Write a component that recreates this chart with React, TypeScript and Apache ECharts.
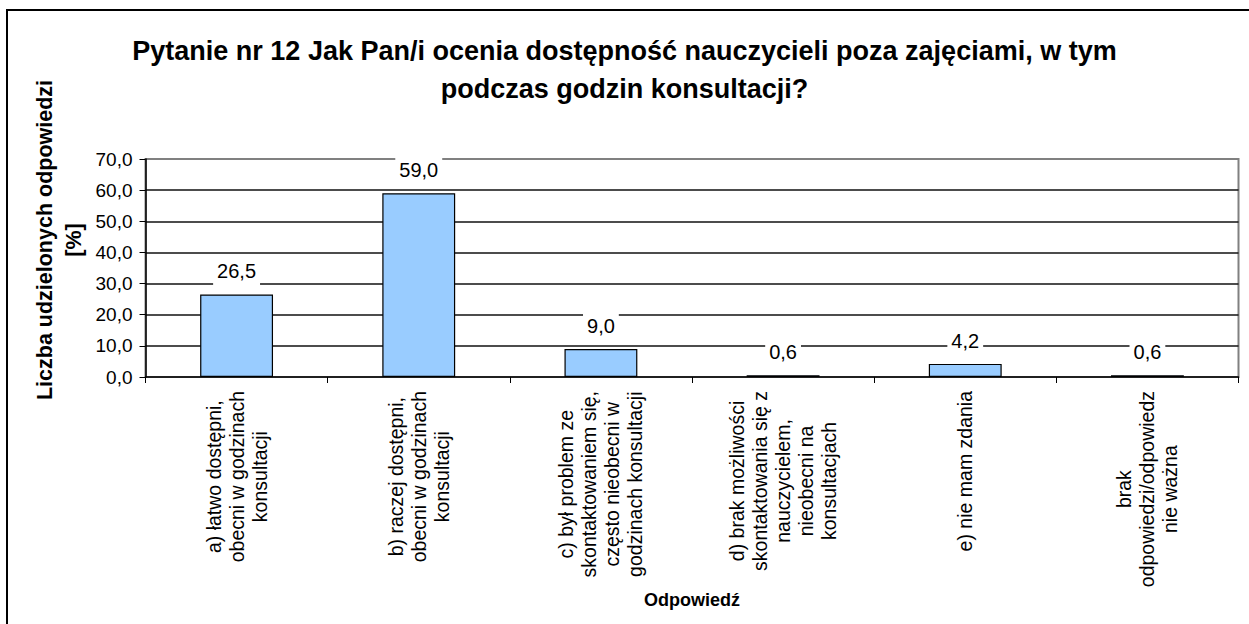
import React, { useEffect, useRef } from "react";
import * as echarts from "echarts";

const titleText = "Pytanie nr 12 Jak Pan/i ocenia dostępność nauczycieli poza zajęciami, w tym\npodczas godzin konsultacji?";
const yAxisTitle = "Liczba udzielonych odpowiedzi\n[%]";
const xAxisTitle = "Odpowiedź";

const categories: string[][] = [
  ["a) łatwo dostępni,", "obecni w godzinach", "konsultacji"],
  ["b) raczej dostępni,", "obecni w godzinach", "konsultacji"],
  ["c) był problem ze", "skontaktowaniem się,", "często nieobecni w", "godzinach konsultacji"],
  ["d) brak możliwości", "skontaktowania się z", "nauczycielem,", "nieobecni na", "konsultacjach"],
  ["e) nie mam zdania"],
  ["brak", "odpowiedzi/odpowiedz", "nie ważna"],
];
const values: number[] = [26.5, 59.0, 9.0, 0.6, 4.2, 0.6];

const yMin = 0;
const yMax = 70;
const yStep = 10;

const FONT = '"Liberation Sans", Arial, sans-serif';
const fmt = (v: number) => v.toFixed(1).replace(".", ",");

export default function App() {
  const ref = useRef<HTMLDivElement>(null);
  useEffect(() => {
    if (!ref.current) return;
    const chart = echarts.init(ref.current, null, { renderer: "svg" });
    const catKeys = categories.map((c) => c.join("\n"));
    chart.setOption({
      animation: false,
      backgroundColor: "#fff",
      title: {
        text: titleText,
        left: "center",
        top: 32,
        padding: [0, 0, 0, 22],
        textStyle: {
          fontFamily: FONT,
          fontWeight: "bold",
          fontSize: 27,
          lineHeight: 38,
          color: "#000",
        },
      },
      graphic: [
        {
          type: "rect",
          silent: true,
          z: -10,
          shape: { x: 7, y: 10, width: 1300, height: 700 },
          style: { fill: "none", stroke: "#000", lineWidth: 2 },
        },
        {
          type: "text",
          x: 59,
          y: 240,
          rotation: Math.PI / 2,
          style: {
            text: yAxisTitle,
            font: `bold 21.5px ${FONT}`,
            lineHeight: 29,
            align: "center",
            verticalAlign: "middle",
            fill: "#000",
          },
        },
      ],
      grid: {
        left: 145.5,
        right: 10.5,
        top: 159,
        bottom: 247,
        show: true,
        borderColor: "#808080",
        borderWidth: 2,
        backgroundColor: "transparent",
      },
      xAxis: {
        type: "category",
        data: catKeys,
        boundaryGap: true,
        name: xAxisTitle,
        nameLocation: "middle",
        nameGap: 212,
        nameTextStyle: {
          fontFamily: FONT,
          fontWeight: "bold",
          fontSize: 18,
          color: "#000",
        },
        axisLine: { show: true, lineStyle: { color: "#000", width: 1.5 } },
        axisTick: { show: true, alignWithLabel: false, length: 6, lineStyle: { color: "#000" } },
        axisLabel: {
          interval: 0,
          rotate: 90,
          margin: 14,
          formatter: (v: string) =>
            v
              .split("\n")
              .map((l) => `{c|${l}}`)
              .join("\n"),
          rich: {
            c: {
              align: "center",
              fontFamily: FONT,
              fontSize: 19.5,
              lineHeight: 23,
              color: "#000",
            },
          },
        },
        splitLine: { show: false },
      },
      yAxis: {
        type: "value",
        min: yMin,
        max: yMax,
        interval: yStep,
        axisLine: { show: true, lineStyle: { color: "#000", width: 1.5 } },
        axisTick: { show: true, length: 6, lineStyle: { color: "#000" } },
        axisLabel: {
          margin: 13,
          formatter: (v: number) => fmt(v),
          fontFamily: FONT,
          fontSize: 19,
          color: "#000",
        },
        splitLine: {
          show: true,
          showMinLine: false,
          showMaxLine: false,
          lineStyle: { color: "#111", width: 1.6 },
        },
      },
      series: [
        {
          type: "bar",
          data: values,
          barWidth: "40%",
          itemStyle: { color: "#99CCFF", borderColor: "#000", borderWidth: 1.2 },
          label: {
            show: true,
            position: "top",
            distance: 8,
            formatter: (p: any) => fmt(p.value),
            fontFamily: FONT,
            fontSize: 20,
            lineHeight: 20,
            color: "#000",
            backgroundColor: "#fff",
            padding: [3, 4, 5, 4],
          },
        },
      ],
    });
    return () => chart.dispose();
  }, []);
  return (
    <div
      ref={ref}
      style={{ position: "fixed", left: 0, top: 0, width: 1249, height: 624 }}
    />
  );
}
